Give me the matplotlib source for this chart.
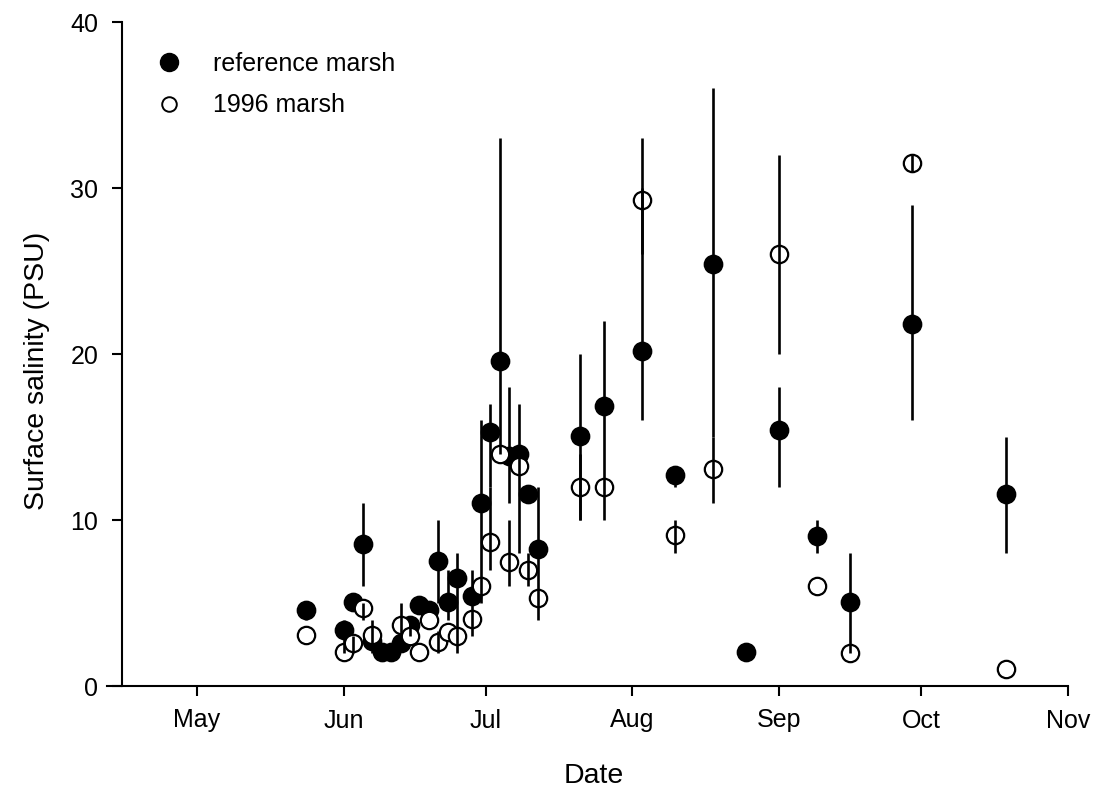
import numpy as np
import matplotlib
matplotlib.use("Agg")
import matplotlib.pyplot as plt
from matplotlib.lines import Line2D

plt.rcParams['font.family'] = ['Liberation Sans', 'DejaVu Sans']

# Day of year (1 May = 121)
ref_days = [144, 152, 154, 156, 158, 160, 162, 164, 166, 168, 170, 172, 174, 176,
            179, 181, 183, 185, 187, 189, 191, 193, 202, 207, 215, 222, 230, 237,
            244, 252, 259, 272, 292]
ref_vals = [4.55, 3.4, 5.05, 8.55, 2.7, 2.05, 2.05, 2.6, 3.7, 4.85, 4.55, 7.55, 5.05, 6.5,
            5.4, 11.05, 15.3, 19.55, 13.85, 14.0, 11.55, 8.25, 15.05, 16.85, 20.2, 12.7, 25.4, 2.05,
            15.4, 9.05, 5.05, 21.8, 11.55]
ref_lo = [4.0, 2.0, np.nan, 6.0, 2.0, np.nan, np.nan, np.nan, 3.0, np.nan, np.nan, 5.0, 4.0, 2.0,
          3.0, 5.0, 12.0, 14.0, 11.0, 8.0, 11.0, 4.0, 10.0, 10.0, 16.0, 12.0, 15.0, np.nan,
          12.0, 8.0, 2.0, 16.0, 8.0]
ref_hi = [4.55, 4.0, np.nan, 11.0, 4.0, np.nan, np.nan, np.nan, 3.7, np.nan, np.nan, 10.0, 7.0, 8.0,
          7.0, 16.0, 17.0, 33.0, 18.0, 17.0, 12.0, 12.0, 20.0, 22.0, 30.0, 13.0, 36.0, np.nan,
          18.0, 10.0, 8.0, 29.0, 15.0]

m96_days = [144, 152, 154, 156, 158, 164, 166, 168, 170, 172, 174, 176, 179, 181, 183,
            185, 187, 189, 191, 193, 202, 207, 215, 222, 230, 244, 252, 259, 272, 292]
m96_vals = [3.05, 2.07, 2.6, 4.7, 3.1, 3.7, 3.0, 2.07, 4.0, 2.67, 3.25, 3.0, 4.05, 6.0, 8.7,
            14.0, 7.5, 13.25, 7.0, 5.3, 12.0, 12.0, 29.3, 9.1, 13.1, 26.0, 6.0, 2.0, 31.5, 1.0]
m96_lo = [np.nan, np.nan, 2.0, 4.0, np.nan, 3.0, np.nan, np.nan, np.nan, 2.0, np.nan, np.nan, np.nan, np.nan, 7.0,
          np.nan, 6.0, np.nan, 6.0, np.nan, 10.0, np.nan, 26.0, 8.0, 11.0, 20.0, np.nan, np.nan, 31.0, np.nan]
m96_hi = [np.nan, np.nan, 3.0, 5.0, np.nan, 5.0, np.nan, np.nan, np.nan, 3.3, np.nan, np.nan, np.nan, np.nan, 12.0,
          np.nan, 10.0, np.nan, 8.0, np.nan, 14.0, np.nan, 33.0, 10.0, 15.0, 32.0, np.nan, np.nan, 32.0, np.nan]

month_ticks = [121, 152, 182, 213, 244, 274, 305]
month_labels = ['May', 'Jun', 'Jul', 'Aug', 'Sep', 'Oct', 'Nov']
y_ticks = [0, 10, 20, 30, 40]

fig = plt.figure(figsize=(10.99, 7.98), dpi=100)
ax = fig.add_axes([107 / 1099, 112 / 798, (1068 - 107) / 1099, (686 - 22) / 798])


def err(vals, lo, hi):
    v = np.array(vals, float)
    l = np.array(lo, float)
    h = np.array(hi, float)
    l = np.where(np.isnan(l), v, l)
    h = np.where(np.isnan(h), v, h)
    return np.vstack([v - l, h - v])


ax.errorbar(ref_days, ref_vals, yerr=err(ref_vals, ref_lo, ref_hi), fmt='none',
            ecolor='black', elinewidth=1.9, capsize=0, zorder=4, clip_on=False)
ax.errorbar(m96_days, m96_vals, yerr=err(m96_vals, m96_lo, m96_hi), fmt='none',
            ecolor='black', elinewidth=1.9, capsize=0, zorder=4, clip_on=False)
ax.plot(ref_days, ref_vals, 'o', ms=13, mfc='black', mec='black', mew=1.2,
        ls='none', zorder=2, clip_on=False)
ax.plot(m96_days, m96_vals, 'o', ms=12.5, mfc='white', mec='black', mew=1.6,
        ls='none', zorder=3, clip_on=False)

ax.set_xlim(102, 305)
ax.set_ylim(0, 40)
ax.spines['left'].set_position(('data', 105.2))
ax.spines['left'].set_bounds(0, 40)
ax.spines['top'].set_visible(False)
ax.spines['right'].set_visible(False)
for s in ['left', 'bottom']:
    ax.spines[s].set_linewidth(1.5)

ax.set_xticks(month_ticks)
ax.set_xticklabels(month_labels)
ax.set_yticks(y_ticks)
ax.tick_params(axis='both', direction='out', length=7.2, width=1.5, labelsize=18)
ax.tick_params(axis='x', pad=9)
ax.tick_params(axis='y', pad=10)

ax.set_xlabel('Date', fontsize=20.5)
ax.set_ylabel('Surface salinity (PSU)', fontsize=20.5)
ax.xaxis.set_label_coords(0.506, -0.116)
ax.yaxis.set_label_coords(-0.059, 0.474)

handles = [Line2D([], [], marker='o', ls='none', ms=13, mfc='black', mec='black'),
           Line2D([], [], marker='o', ls='none', ms=10.5, mfc='white', mec='black', mew=1.4)]
ax.legend(handles, ['reference marsh', '1996 marsh'], loc='upper left',
          bbox_to_anchor=(0.0385, 0.955), frameon=False, fontsize=18,
          handlelength=2.0, handletextpad=0.76, labelspacing=0.7, borderaxespad=0,
          borderpad=0)

fig.savefig('out.png', dpi=100)
